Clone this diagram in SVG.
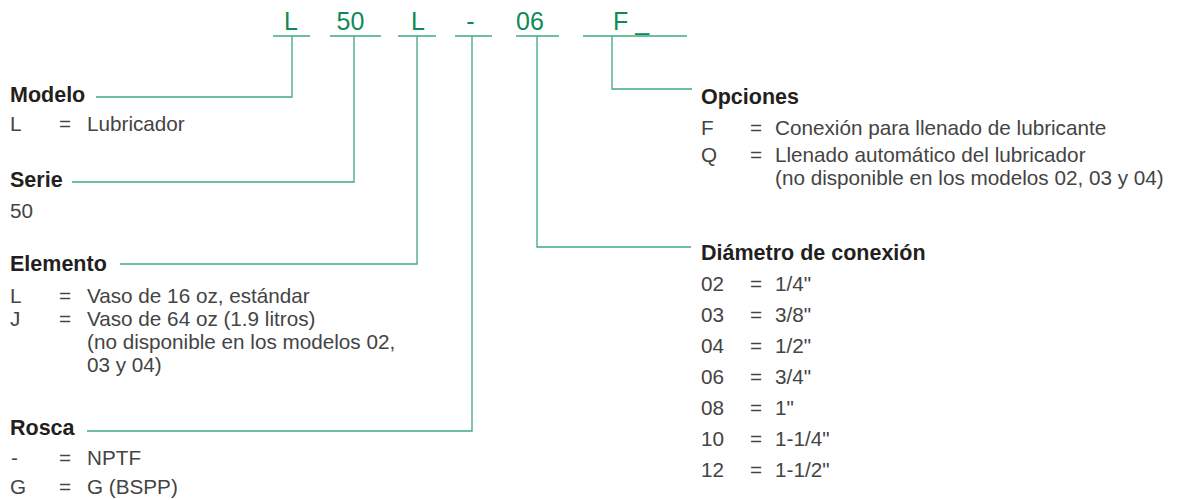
<svg xmlns="http://www.w3.org/2000/svg" width="1177" height="500" viewBox="0 0 1177 500">
  <style>
    .code { font-family: "Liberation Sans", Arial, sans-serif; font-size: 25px; fill: #0f8a55; }
    .ul { stroke: #3fa87c; stroke-width: 1.3; fill: none; }
    .conn { stroke: #3fa87c; stroke-width: 1.3; fill: none; }
    .h { font-family: "Liberation Sans", Arial, sans-serif; font-size: 21.5px; font-weight: bold; fill: #231f20; }
    .t { font-family: "Liberation Sans", Arial, sans-serif; font-size: 20.7px; fill: #444444; }
  </style>
  <rect width="1177" height="500" fill="#ffffff"/>

  <g id="code-modelo">
    <text class="code" x="291" y="30" text-anchor="middle">L</text>
    <line class="ul" x1="273" y1="36" x2="310" y2="36"/>
  </g>
  <g id="code-serie">
    <text class="code" x="350.5" y="30" text-anchor="middle">50</text>
    <line class="ul" x1="330" y1="36" x2="381" y2="36"/>
  </g>
  <g id="code-elemento">
    <text class="code" x="418" y="30" text-anchor="middle">L</text>
    <line class="ul" x1="398" y1="36" x2="436" y2="36"/>
  </g>
  <g id="code-rosca">
    <text class="code" x="470.5" y="30" text-anchor="middle">-</text>
    <line class="ul" x1="455" y1="36" x2="492" y2="36"/>
  </g>
  <g id="code-diametro">
    <text class="code" x="516" y="30">06</text>
    <line class="ul" x1="516" y1="36" x2="559" y2="36"/>
  </g>
  <g id="code-opciones">
    <text class="code" x="613" y="30">F _</text>
    <line class="ul" x1="583" y1="36" x2="687" y2="36"/>
  </g>

  <g id="connectors">
    <polyline class="conn" points="292,36 292,97 96,97"/>
    <polyline class="conn" points="354,36 354,182 72,182"/>
    <polyline class="conn" points="417,36 417,264 120,264"/>
    <polyline class="conn" points="472,36 472,431 87,431"/>
    <polyline class="conn" points="537,36 537,247 691,247"/>
    <polyline class="conn" points="612,36 612,89 692,89"/>
  </g>

  <g id="modelo">
    <text class="h" x="10" y="102">Modelo</text>
    <text class="t" x="10" y="131">L</text>
    <text class="t" x="59" y="131">=</text>
    <text class="t" x="87" y="131">Lubricador</text>
  </g>

  <g id="serie">
    <text class="h" x="10" y="187">Serie</text>
    <text class="t" x="10" y="218">50</text>
  </g>

  <g id="elemento">
    <text class="h" x="10" y="271">Elemento</text>
    <text class="t" x="10" y="303">L</text>
    <text class="t" x="59" y="303">=</text>
    <text class="t" x="87" y="303">Vaso de 16 oz, estándar</text>
    <text class="t" x="10" y="326">J</text>
    <text class="t" x="59" y="326">=</text>
    <text class="t" x="87" y="326">Vaso de 64 oz (1.9 litros)</text>
    <text class="t" x="87" y="349">(no disponible en los modelos 02,</text>
    <text class="t" x="87" y="372">03 y 04)</text>
  </g>

  <g id="rosca">
    <text class="h" x="10" y="435">Rosca</text>
    <text class="t" x="11" y="465">-</text>
    <text class="t" x="59" y="465">=</text>
    <text class="t" x="87" y="465">NPTF</text>
    <text class="t" x="10" y="494">G</text>
    <text class="t" x="59" y="494">=</text>
    <text class="t" x="87" y="494">G (BSPP)</text>
  </g>

  <g id="opciones">
    <text class="h" x="701" y="104">Opciones</text>
    <text class="t" x="701" y="135">F</text>
    <text class="t" x="750" y="135">=</text>
    <text class="t" x="775" y="135">Conexión para llenado de lubricante</text>
    <text class="t" x="701" y="162">Q</text>
    <text class="t" x="750" y="162">=</text>
    <text class="t" x="775" y="162">Llenado automático del lubricador</text>
    <text class="t" x="775" y="185">(no disponible en los modelos 02, 03 y 04)</text>
  </g>

  <g id="diametro">
    <text class="h" x="701" y="260">Diámetro de conexión</text>
    <text class="t" x="701" y="291">02</text>
    <text class="t" x="750" y="291">=</text>
    <text class="t" x="775" y="291">1/4"</text>
    <text class="t" x="701" y="322">03</text>
    <text class="t" x="750" y="322">=</text>
    <text class="t" x="775" y="322">3/8"</text>
    <text class="t" x="701" y="353">04</text>
    <text class="t" x="750" y="353">=</text>
    <text class="t" x="775" y="353">1/2"</text>
    <text class="t" x="701" y="384">06</text>
    <text class="t" x="750" y="384">=</text>
    <text class="t" x="775" y="384">3/4"</text>
    <text class="t" x="701" y="415">08</text>
    <text class="t" x="750" y="415">=</text>
    <text class="t" x="775" y="415">1"</text>
    <text class="t" x="701" y="446">10</text>
    <text class="t" x="750" y="446">=</text>
    <text class="t" x="775" y="446">1-1/4"</text>
    <text class="t" x="701" y="477">12</text>
    <text class="t" x="750" y="477">=</text>
    <text class="t" x="775" y="477">1-1/2"</text>
  </g>
</svg>
